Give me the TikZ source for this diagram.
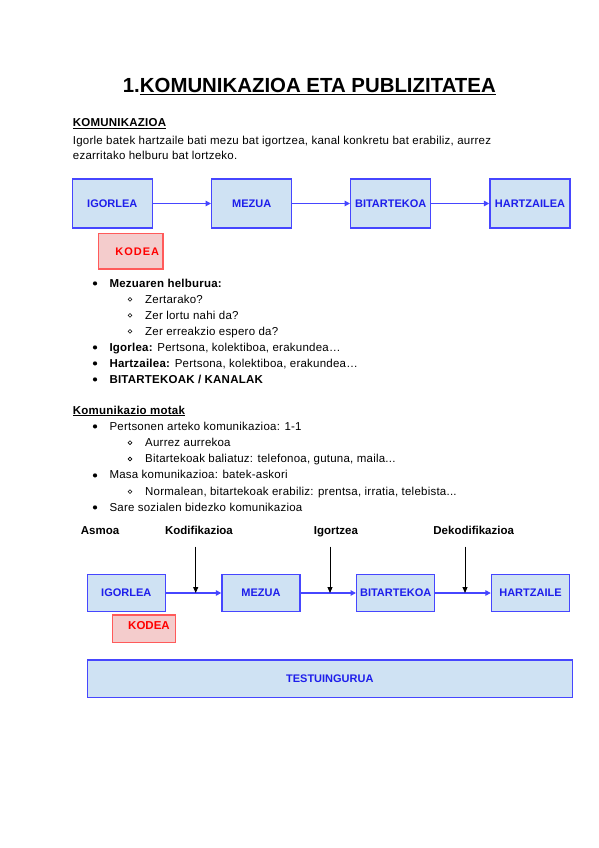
\documentclass[tikz,border=0pt]{standalone}
\usepackage{fontspec}
\setmainfont{Liberation Sans}
\newfontfamily\bodyfont[LetterSpace=2]{Liberation Sans}
\usetikzlibrary{arrows.meta}

\definecolor{boxline}{RGB}{70,70,255}
\definecolor{boxfill}{RGB}{207,226,243}
\definecolor{boxtext}{RGB}{30,30,235}
\definecolor{codeline}{RGB}{255,90,90}
\definecolor{codefill}{RGB}{244,204,204}
\definecolor{codetext}{RGB}{255,0,0}

\begin{document}
\begin{tikzpicture} [x=1pt, y=-1pt, font=\bodyfont\fontsize{11.5}{14}\selectfont]
    \tikzset{block/.style={%
      draw=boxline,%
      fill=boxfill,%
      text=boxtext,%
      line width=1.4pt,%
      font=\rmfamily\fontsize{11}{13}\selectfont\bfseries,%
      inner sep=0pt,%
      minimum width=80pt,%
      minimum height=49pt}%
    };
\tikzset{smallblock/.style={block, minimum width=78pt, minimum height=37.4pt}};
\tikzset{codeblock/.style={block, draw=codeline, fill=codefill, text=codetext}};
\tikzset{flow/.style={draw=boxline, line width=1.5pt, -{Triangle[length=5.5pt,width=5.5pt]}}};
\tikzset{down/.style={draw=black, line width=1pt, -{Triangle[length=6pt,width=5pt]}}};
\tikzset{txt/.style={anchor=base west, inner sep=0pt}};

\fill[white] (0,0) rectangle (599,848);
\useasboundingbox (0,0) rectangle (599,848);

%title and heading
\node[txt] (title) at (122.7,93) {\rmfamily\fontsize{20.4}{24}\selectfont\bfseries 1.\underline{KOMUNIKAZIOA ETA PUBLIZITATEA}};
\node[txt] (komHead) at (72.7,126.7) {\bfseries\underline{KOMUNIKAZIOA}};
\node[txt] (defA) at (72.7,144) {Igorle batek hartzaile bati mezu bat igortzea, kanal konkretu bat erabiliz, aurrez};
\node[txt] (defB) at (72.7,159) {ezarritako helburu bat lortzeko.};

%first scheme
\node[block] (igorle) at (112.3,203.5) {IGORLEA};
\node[block] (mezua) at (251.7,203.5) {MEZUA};
\node[block] (bitart) at (390.7,203.5) {BITARTEKOA};
\node[block] (hartz) at (530,203.5) {HARTZAILEA};
\node[codeblock, minimum width=64.7pt, minimum height=35.3pt] (kodea) at (130.7,251.3)
  {\hspace*{13pt}\addfontfeature{LetterSpace=9}KODEA};

\draw [flow] (igorle) -- (mezua);
\draw [flow] (mezua) -- (bitart);
\draw [flow] (bitart) -- (hartz);

%bullet lists
\foreach \y in {287,351,367,383,430,479,511}
  \fill (95,\y-3.6) circle (2.1pt);
\foreach \y in {303,319,335,446.3,462.6,495.2}
  \draw[line width=0.6pt] (130,\y-3.6) circle (1.9pt);

\node[txt] (helburu) at (109.3,287) {\bfseries Mezuaren helburua:};
\node[txt] (zertarako) at (145,303) {Zertarako?};
\node[txt] (lortu) at (145,319) {Zer lortu nahi da?};
\node[txt] (erreakzio) at (145,335) {Zer erreakzio espero da?};
\node[txt] (igorleaItem) at (109.3,351) {\textbf{Igorlea:} Pertsona, kolektiboa, erakundea\dots};
\node[txt] (hartzItem) at (109.3,367) {\textbf{Hartzailea:} Pertsona, kolektiboa, erakundea\dots};
\node[txt] (kanalak) at (109.3,383) {\bfseries BITARTEKOAK / KANALAK};

\node[txt] (motak) at (72.7,414) {\bfseries\underline{Komunikazio motak}};
\node[txt] (pertsonen) at (109.3,430) {Pertsonen arteko komunikazioa: 1-1};
\node[txt] (aurrez) at (145,446.3) {Aurrez aurrekoa};
\node[txt] (baliatuz) at (145,462.6) {Bitartekoak baliatuz: telefonoa, gutuna, maila...};
\node[txt] (masa) at (109.3,478.9) {Masa komunikazioa: batek-askori};
\node[txt] (normalean) at (145,495.2) {Normalean, bitartekoak erabiliz: prentsa, irratia, telebista...};
\node[txt] (sare) at (109.3,511.5) {Sare sozialen bidezko komunikazioa};

%second scheme
\tikzset{step label/.style={anchor=base, inner sep=0pt, font=\rmfamily\fontsize{11.5}{14}\selectfont\bfseries}};
\node[step label, anchor=base west] (asmoa) at (80.7,534) {Asmoa};
\node[step label] (kodif) at (199,534) {Kodifikazioa};
\node[step label] (igortzea) at (335.9,534) {Igortzea};
\node[step label] (dekodif) at (473.7,534) {Dekodifikazioa};

\node[smallblock] (igorle2) at (126.3,593) {IGORLEA};
\node[smallblock] (mezua2) at (261,593) {MEZUA};
\node[smallblock] (bitart2) at (395.7,593) {BITARTEKOA};
\node[smallblock] (hartz2) at (530.5,593) {HARTZAILE};
\node[codeblock, minimum width=63pt, minimum height=27.3pt, text depth=7pt,
  font=\rmfamily\fontsize{11.5}{14}\selectfont\bfseries] (kodea2) at (144.2,628.7) {\hspace*{9.6pt}KODEA};
\node[smallblock, minimum width=485pt] (testuin) at (329.8,678.5) {TESTUINGURUA};

\draw [flow] (igorle2) -- (mezua2);
\draw [flow] (mezua2) -- (bitart2);
\draw [flow] (bitart2) -- (hartz2);

%arrows from the steps
\coordinate (kodTop) at (195.7,546.7);
\coordinate (igorTop) at (330,546.7);
\coordinate (dekTop) at (465,546.7);
\draw [down] (kodTop) -- (kodTop |- igorle2.east);
\draw [down] (igorTop) -- (igorTop |- mezua2.east);
\draw [down] (dekTop) -- (dekTop |- bitart2.east);

\end{tikzpicture}
\end{document}
